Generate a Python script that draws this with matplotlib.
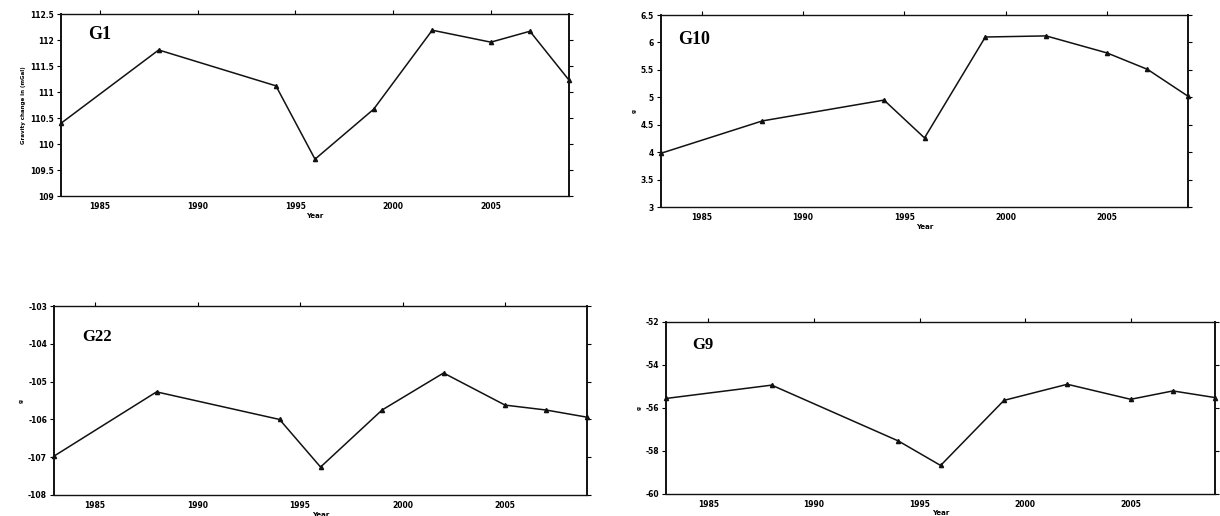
"""
Gravity change time series for four stations (G1, G10, G22, G9).
"""

import matplotlib
matplotlib.use("Agg")

import matplotlib.pyplot as plt
import matplotlib.ticker as mticker

# ── Data ──────────────────────────────────────────────────────────────────────
YEARS = [1983, 1988, 1994, 1996, 1999, 2002, 2005, 2007, 2009]

G1_VALUES  = [110.40, 111.81, 111.12, 109.71, 110.67, 112.19, 111.96, 112.17, 111.23]
G10_VALUES = [3.98, 4.57, 4.95, 4.26, 6.10, 6.12, 5.81, 5.51, 5.02]
G22_VALUES = [-106.97, -105.27, -106.00, -107.26, -105.75, -104.77, -105.62, -105.75, -105.94]
G9_VALUES  = [-55.56, -54.94, -57.54, -58.68, -55.65, -54.90, -55.60, -55.21, -55.52]

X_TICKS = [1985, 1990, 1995, 2000, 2005]

# ── Style ─────────────────────────────────────────────────────────────────────
COLOR_LINE = "#111111"
FIG_W, FIG_H, DPI = 12.2, 5.16, 100

PANELS = [
    # name, values, ylim, ystep, axes rect, label pos, ylabel, title size
    ("G1",  G1_VALUES,  (109, 112.5), 0.5, [0.050, 0.620, 0.4164, 0.3527], (0.053, 0.89),
     "Gravity change in (mGal)", 13),
    ("G10", G10_VALUES, (3, 6.5),     0.5, [0.5418, 0.5988, 0.432, 0.372], (0.032, 0.875),
     "g", 13),
    ("G22", G22_VALUES, (-108, -103), 1.0, [0.0443, 0.0407, 0.4369, 0.366], (0.053, 0.836),
     "g", 12),
    ("G9",  G9_VALUES,  (-60, -52),   2.0, [0.546, 0.0430, 0.450, 0.3330], (0.047, 0.865),
     "g", 12),
]


def _style_axes(ax, ylim, ystep):
    ax.set_xlim(1983, 2009)
    ax.set_ylim(*ylim)
    ax.set_xticks(X_TICKS)
    ax.yaxis.set_major_locator(mticker.MultipleLocator(ystep))
    ax.yaxis.set_major_formatter(mticker.FormatStrFormatter("%g"))
    ax.tick_params(direction="out", length=3, width=0.8, labelsize=5.5,
                   pad=2, top=True, right=True, labeltop=False, labelright=False)
    # no tick marks along the bottom, labels only
    ax.xaxis.set_tick_params(bottom=False, labelbottom=True, pad=1.5)
    for lab in ax.get_xticklabels() + ax.get_yticklabels():
        lab.set_fontweight("bold")
    for side in ["left", "right", "top", "bottom"]:
        ax.spines[side].set_linewidth(1.0)
        ax.spines[side].set_color(COLOR_LINE)
    ax.spines["left"].set_linewidth(1.4)
    ax.spines["right"].set_linewidth(1.4)


fig = plt.figure(figsize=(FIG_W, FIG_H), dpi=DPI, facecolor="white")

for name, values, ylim, ystep, rect, label_pos, ylabel, tsize in PANELS:
    ax = fig.add_axes(rect)
    ax.plot(YEARS, values, color=COLOR_LINE, linewidth=1.1, marker="^",
            markersize=3, clip_on=False, zorder=3)
    _style_axes(ax, ylim, ystep)
    ax.text(label_pos[0], label_pos[1], name, transform=ax.transAxes,
            ha="left", va="center", fontsize=tsize, fontweight="bold",
            family="Liberation Serif")
    ax.set_xlabel("Year", fontsize=5, fontweight="bold", labelpad=1)
    ax.set_ylabel(ylabel, fontsize=4, fontweight="bold", labelpad=3)

fig.savefig("out.png", dpi=DPI, facecolor="white")
